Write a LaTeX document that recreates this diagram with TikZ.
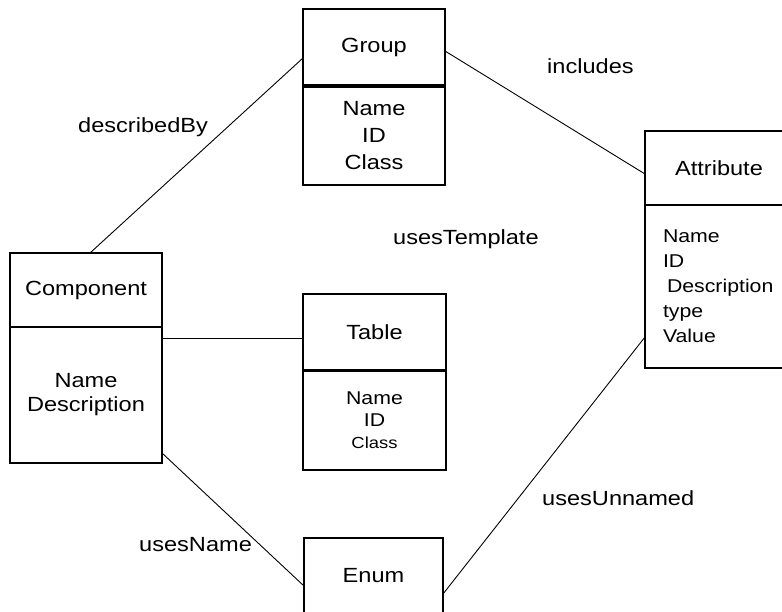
\documentclass[tikz,border=0pt]{standalone}
\usepackage{fontspec}
\setmainfont[FakeStretch=1.15]{Liberation Sans}
\usepackage{tikz}
\usetikzlibrary{positioning}
\tikzstyle{classhead} = [rectangle, draw=black, line width=2pt, outer sep=0pt, inner sep=0pt, anchor=north west, text centered, font=\fontsize{20.5}{25}\selectfont]
\tikzstyle{classbody} = [rectangle, draw=black, line width=2pt, outer sep=0pt, inner sep=0pt, align=center, font=\fontsize{20.5}{25}\selectfont]
\tikzstyle{relation} = [line width=0.9pt]
\tikzstyle{rolename} = [anchor=base west, inner sep=0pt, font=\fontsize{20.5}{25}\selectfont]

\begin{document}
\begin{tikzpicture}[x=1pt, y=-1pt]
\useasboundingbox (0,0) rectangle (782,612);
\node(group_head) [classhead, minimum width=142pt, minimum height=76pt] at (303,9) {Group};
\node(group_body) [classbody, minimum width=142pt, minimum height=98pt, below=2pt of group_head, font=\fontsize{20.5}{27}\selectfont] {Name\\ID\\Class};
\node(comp_head) [classhead, minimum width=152pt, minimum height=74pt] at (10,253) {Component};
\node(comp_body) [classbody, minimum width=152pt, minimum height=136pt, below=0pt of comp_head, font=\fontsize{20.5}{24}\selectfont] {Name\\Description};
\node(table_head) [classhead, minimum width=143pt, minimum height=76pt] at (303,294) {Table};
\node(table_body) [classbody, minimum width=143pt, minimum height=99pt, below=1pt of table_head, font=\fontsize{18.5}{22}\selectfont] {Name\\ID\\{\fontsize{16}{22}\selectfont Class}};
\node(attr_head) [classhead, minimum width=148pt, minimum height=74pt] at (645,131) {Attribute};
\node(attr_body) [classbody, minimum width=148pt, minimum height=163pt, below=0pt of attr_head, align=flush left, text width=112pt, inner xsep=18pt, font=\fontsize{18.5}{25}\selectfont] {Name\\ID\\\hspace*{4pt}\mbox{Description}\\type\\Value};
\node(enum_head) [classhead, minimum width=139pt, minimum height=76pt] at (304,538) {Enum};

\node(described_by) [rolename] at (78,133) {describedBy};
\node(includes) [rolename] at (547,74) {includes};
\node(uses_template) [rolename] at (393,245) {usesTemplate};
\node(uses_name) [rolename] at (139,551) {usesName};
\node(uses_unnamed) [rolename] at (542,505) {usesUnnamed};

\draw[relation] ([xshift=4pt]comp_head.north) -- ([yshift=-11pt]group_head.west);
\draw[relation] ([yshift=-4pt]group_head.east) -- ([yshift=-6pt]attr_head.west);
\draw[relation] ([yshift=-11pt]comp_body.north east) -- ([yshift=-6pt]table_head.west);
\draw[relation] ([yshift=10pt]comp_body.south east) -- ([yshift=-10pt]enum_head.west);
\draw[relation] ([yshift=-18pt]enum_head.east) -- ([yshift=31pt]attr_body.south west);
\end{tikzpicture}
\end{document}
